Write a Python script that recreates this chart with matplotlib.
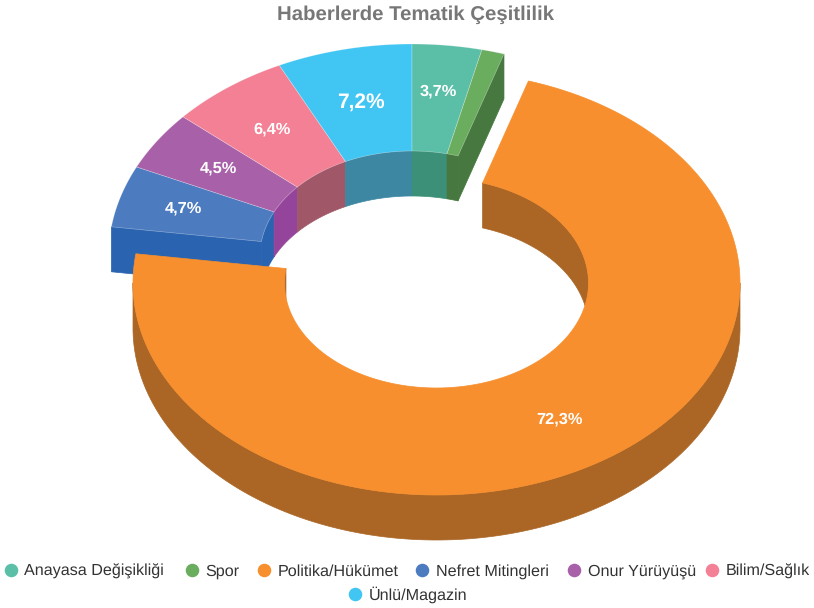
import numpy as np
import matplotlib
matplotlib.use('Agg')
import matplotlib.pyplot as plt
from matplotlib.patches import Polygon

plt.rcParams['font.family'] = ['Liberation Sans', 'DejaVu Sans']
plt.rcParams['text.hinting'] = 'no_hinting'

title = 'Haberlerde Tematik Çeşitlilik'
categories = ['Anayasa Değişikliği', 'Spor', 'Politika/Hükümet', 'Nefret Mitingleri',
              'Onur Yürüyüşü', 'Bilim/Sağlık', 'Ünlü/Magazin']
values = [3.7, 1.2, 72.3, 4.7, 4.5, 6.4, 7.2]
labels = ['3,7%', '', '72,3%', '4,7%', '4,5%', '6,4%', '7,2%']

top_colors = ['#5bbfa8', '#6aad5e', '#f78f2e', '#4c7bbf', '#a860a8', '#f38095', '#41c5f2']
side_colors = ['#3c9078', '#46783f', '#ab6625', '#2a64b0', '#94459b', '#a05868', '#3e87a3']
label_sizes = [11.8, 11.8, 11.8, 11.8, 11.8, 11.8, 15]
label_dx = [0, 0, 0, -7, 0, 0, 1]
label_dy = [-5, 0, 0, -2, 0, 1, 3]

# ring geometry, in pixels of the figure
RX, RY = 303.5, 212
IRX, IRY = 152, 105
DEPTH = 45
K_LABEL = 0.76
EXPLODED = 2
CENTER_OUT = (436.5, 283)
CENTER_REST = (412, 256)

legend_x = [11, 192, 264, 422, 574, 712, 355]
legend_y = [570, 570, 570, 570, 570, 570, 594]


def point(c, rx, ry, t):
    return np.column_stack([c[0] + rx * np.sin(t), c[1] - ry * np.cos(t)])


def arc(t0, t1):
    return np.radians(np.linspace(t0, t1, max(int(abs(t1 - t0) * 2), 2)))


def shifted(pts):
    return pts + np.array([0, DEPTH])


def add_poly(ax, pts, color, edge=None, z=1):
    ax.add_patch(Polygon(pts, closed=True, facecolor=color,
                         edgecolor=edge if edge else color, linewidth=0.5, zorder=z))


def wall(ax, c, rx, ry, t0, t1, color, z):
    if t1 <= t0:
        return
    pts = point(c, rx, ry, arc(t0, t1))
    add_poly(ax, np.vstack([pts, shifted(pts)[::-1]]), color, z=z)


def draw_slice(ax, c, t0, t1, i, z):
    # outer wall shows on the front half, inner wall on the back half
    wall(ax, c, RX, RY, max(t0, 90), min(t1, 270), side_colors[i], z)
    for a, b in [(t0, min(t1, 90)), (max(t0, 270), min(t1, 450))]:
        wall(ax, c, IRX, IRY, a, b, side_colors[i], z + 0.1)
    outer = point(c, RX, RY, arc(t0, t1))
    inner = point(c, IRX, IRY, arc(t0, t1))
    return np.vstack([outer, inner[::-1]])


fig = plt.figure(figsize=(8.14, 6.08), dpi=100)
ax = fig.add_axes([0, 0, 1, 1])
ax.set_xlim(0, 814)
ax.set_ylim(608, 0)
ax.axis('off')

angles = np.cumsum([0] + values) * 360 / sum(values)
starts, ends = angles[:-1], angles[1:]

# slices behind the exploded one, first their cut faces
tops = []
rest = [3, 4, 5, 6, 0, 1]
for i in rest:
    t0, t1 = starts[i], ends[i]
    if t1 <= 90:
        t0, t1 = t0 + 360, t1 + 360
    tops.append((i, draw_slice(ax, CENTER_REST, t0, t1, i, 1)))

for i, t in [(3, starts[3]), (1, ends[1])]:
    edge = point(CENTER_REST, np.array([IRX, RX]), np.array([IRY, RY]), np.radians(t))
    add_poly(ax, np.vstack([edge, shifted(edge)[::-1]]), side_colors[i], z=1.5)

for i, pts in tops:
    add_poly(ax, pts, top_colors[i], edge='#ffffff50', z=2)

# exploded slice goes on top of the others
pts = draw_slice(ax, CENTER_OUT, starts[EXPLODED], ends[EXPLODED], EXPLODED, 3)
add_poly(ax, pts, top_colors[EXPLODED], z=4)

for i, lab in enumerate(labels):
    if not lab:
        continue
    c = CENTER_OUT if i == EXPLODED else CENTER_REST
    t = np.radians((starts[i] + ends[i]) / 2)
    p = point(c, RX * K_LABEL, RY * K_LABEL, t)[0]
    ax.text(p[0] + label_dx[i], p[1] + label_dy[i], lab, color='white', fontweight='bold',
            fontsize=label_sizes[i], ha='center', va='center', zorder=5)

ax.text(415.5, 20, title, color='#777777', fontweight='bold', fontsize=14.7,
        ha='center', va='baseline')

for name, col, x, y in zip(categories, top_colors, legend_x, legend_y):
    ax.scatter([x], [y], s=95, color=col, linewidths=0)
    ax.text(x + 13.5, y + 5.5, name, color='#333333', fontsize=11.6, ha='left', va='baseline')

fig.savefig('out.png', dpi=100)
